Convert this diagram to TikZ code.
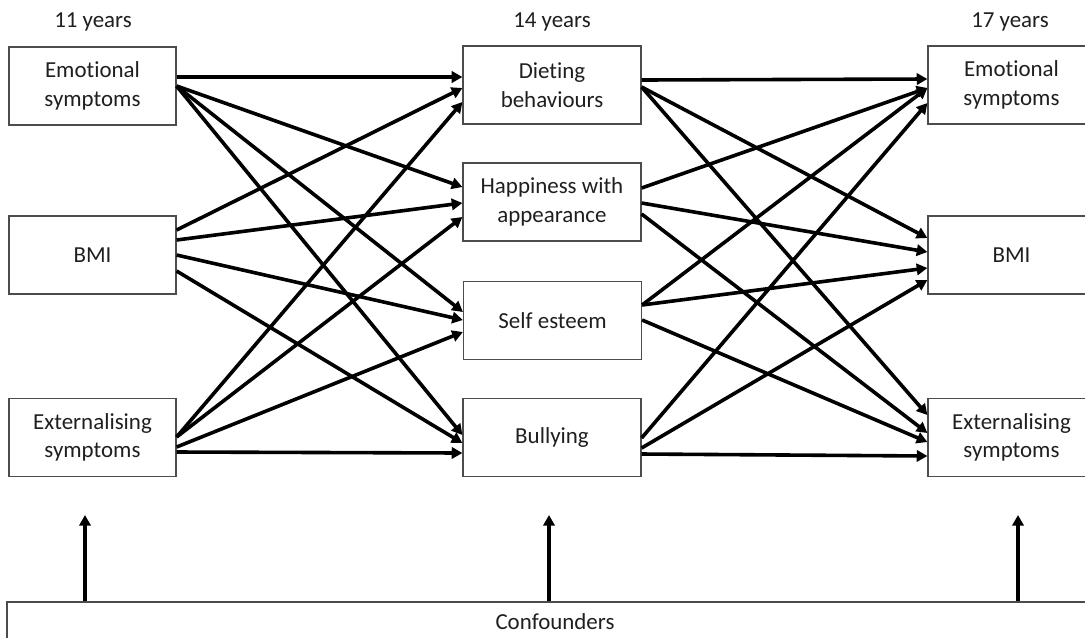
\documentclass[tikz,border=0pt]{standalone}
\usepackage{fontspec}
\setmainfont{Carlito}[Ligatures=NoCommon]
\usetikzlibrary{arrows.meta,calc}
\begin{document}
\begin{tikzpicture}[x=0.75pt,y=-0.75pt,
  box/.style={draw=black!70,line width=0.9pt,minimum height=58.5pt,align=center,
    text=black!88,font=\fontsize{17.2}{21.3}\selectfont,inner sep=0pt},
  lbox/.style={box,minimum width=125.25pt},
  mbox/.style={box,minimum width=133.5pt},
  rbox/.style={box,minimum width=125.25pt},
  lbl/.style={text=black!88,font=\fontsize{17.2}{21.3}\selectfont,inner sep=0pt},
  arr/.style={line width=2.7pt,-{Triangle[length=8pt,width=8.5pt]}}]
\clip (0,0) rectangle (1085,637);
\fill[white] (0,0) rectangle (1085,637);
% headers
\node[lbl] (h1) at (93,22) {11 years};
\node[lbl] (h2) at (552,22) {14 years};
\node[lbl] (h3) at (1010,22) {17 years};
% left
\node[lbox] (le) at (92.5,86) {Emotional\\symptoms};
\node[lbox] (lb) at (92.5,255) {BMI};
\node[lbox] (lx) at (92.5,437.5) {Externalising\\symptoms};
% middle
\node[mbox] (md) at (552,85) {Dieting\\behaviours};
\node[mbox] (mh) at (552,202) {Happiness with\\appearance};
\node[mbox] (ms) at (552.5,320.5) {Self esteem};
\node[mbox] (mb) at (552,437.5) {Bullying};
% right
\node[rbox] (re) at (1011.5,85) {Emotional\\symptoms};
\node[rbox] (rb) at (1011.5,255) {BMI};
\node[rbox] (rx) at (1011.5,437.5) {Externalising\\symptoms};
% confounders
\node[box,minimum width=822pt,minimum height=30pt] (cf) at (555,622) {Confounders};
\coordinate (t1) at (85,515);
\coordinate (t2) at (549,515);
\coordinate (t3) at (1018,515);
\foreach \t in {t1,t2,t3} \draw[arr] (cf.north -| \t) -- (\t);
% left -> middle
\foreach \a/\ao/\b/\bo in {
  le/-9/md/-8, le/0/mh/-15, le/0/ms/-8.5, le/0/mb/-2.5,
  lb/-25/md/3, lb/-15/mh/1, lb/0/ms/-0.5, lb/16/mb/5.5,
  lx/-0.5/md/17, lx/-0.5/mh/15, lx/9.5/ms/11.5, lx/14.5/mb/15.5}
  \draw[arr] ($(\a.east)+(0,\ao)$) -- ($(\b.west)+(0,\bo)$);
% middle -> right
\foreach \a/\ao/\b/\bo in {
  md/-5/re/-6, md/2/rb/-17, md/2/rx/-22.5,
  mh/-14/re/3, mh/1/rb/-3, mh/12/rx/-4.5,
  ms/-15.5/re/3, ms/-15.5/rb/13, ms/-0.5/rx/4.5,
  mb/0.5/re/18, mb/10.5/rb/25, mb/16.5/rx/18.5}
  \draw[arr] ($(\a.east)+(0,\ao)$) -- ($(\b.west)+(0,\bo)$);
\end{tikzpicture}
\end{document}
